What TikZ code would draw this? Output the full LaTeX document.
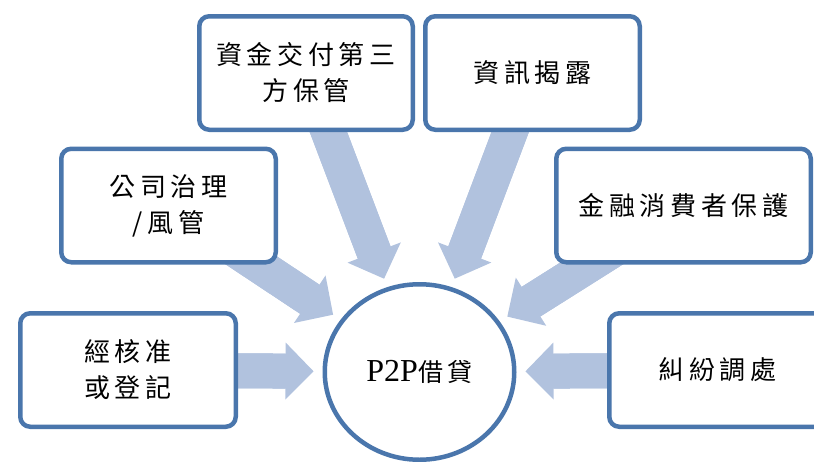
\documentclass[tikz,border=0pt]{standalone}
\usepackage{fontspec}
\setmainfont{Liberation Serif}
\newfontfamily\cjkfont[LetterSpace=18]{Noto Sans CJK TC}
\usetikzlibrary{arrows.meta,shapes.geometric}
\pgfdeclarelayer{bg}
\pgfsetlayers{bg,main}
\definecolor{bordc}{RGB}{74,118,172}
\definecolor{arrc}{RGB}{177,194,222}
\tikzset{
  box/.style={draw=bordc, line width=4.5pt, rounded corners=10pt, fill=white,
    align=center, inner sep=0pt, minimum height=113.5pt,
    font=\fontsize{26}{36}\selectfont\cjkfont},
  hub/.style={ellipse, draw=bordc, line width=4.5pt, fill=white,
    minimum width=189.5pt, minimum height=175.5pt, inner sep=0pt,
    font=\fontsize{32}{36}\selectfont},
  bigarrow/.style={draw=arrc, line width=35pt,
    -{Triangle[width=57pt,length=28pt,line width=0pt]}, shorten >=9pt},
  bigshaft/.style={draw=arrc, line width=35pt, shorten >=32pt},
}
\begin{document}
\begin{tikzpicture}[x=1pt,y=-1pt]
\clip (0,0) rectangle (814,461);
\node[box, minimum width=213.5pt] (b1) at (306,73) {資金交付第三\\方保管};
\node[box, minimum width=214.5pt] (b2) at (532.5,73) {資訊揭露};
\node[box, minimum width=214.5pt] (b3) at (168.5,205.5) {公司治理\\/風管};
\node[box, minimum width=254.5pt] (b4) at (683.5,205.5) {金融消費者保護};
\node[box, minimum width=215.5pt] (b5) at (128,370) {經核准\\或登記};
\node[box, minimum width=216.5pt] (b6) at (717.5,370) {糾紛調處};
\node[hub] (hub) at (419.5,372) {P2P{\fontsize{25}{30}\selectfont\cjkfont 借貸}};
\begin{pgfonlayer}{bg}
  \foreach \b in {b1,b2,b3,b4,b5,b6}{
    \draw[bigarrow] (\b.center) -- (hub);
    \draw[bigshaft] (\b.center) -- (hub);
  }
\end{pgfonlayer}
\end{tikzpicture}
\end{document}
